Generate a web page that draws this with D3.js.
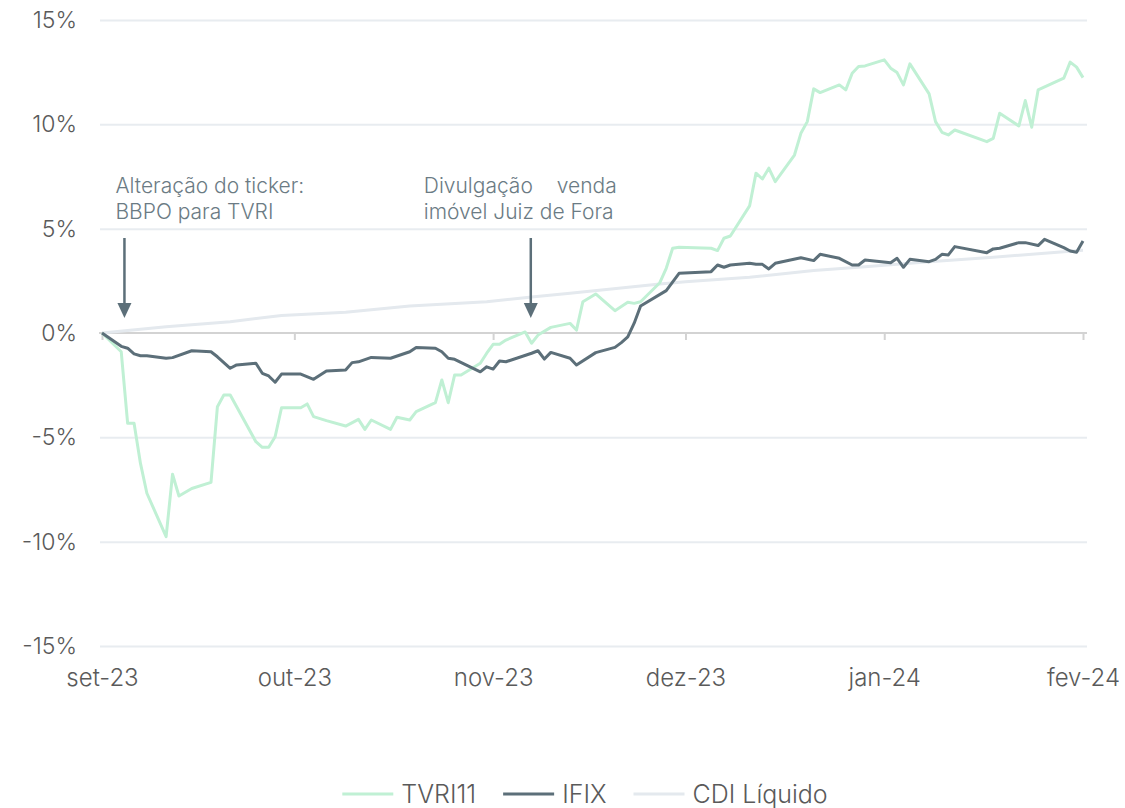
<!DOCTYPE html>
<html lang="pt">
<head>
<meta charset="utf-8">
<title>TVRI11 x IFIX x CDI</title>
<script src="https://cdn.jsdelivr.net/npm/d3@7"></script>
<style>
  body { margin: 0; background: #fff; }
  svg text { font-family: Inter, "Open Sans", sans-serif; font-weight: 300; }
</style>
</head>
<body>
<script>
// dados (% acumulado)
var tvri11 = [
  ["2023-09-01", 0], ["2023-09-04", -0.9], ["2023-09-05", -4.33], ["2023-09-06", -4.33],
  ["2023-09-07", -6.25], ["2023-09-08", -7.68], ["2023-09-11", -9.76], ["2023-09-12", -6.77],
  ["2023-09-13", -7.81], ["2023-09-15", -7.45], ["2023-09-18", -7.16], ["2023-09-19", -3.53],
  ["2023-09-20", -2.97], ["2023-09-21", -2.97], ["2023-09-25", -5.21], ["2023-09-26", -5.48],
  ["2023-09-27", -5.48], ["2023-09-28", -4.97], ["2023-09-29", -3.58], ["2023-10-02", -3.58],
  ["2023-10-03", -3.40], ["2023-10-04", -4.01], ["2023-10-06", -4.20], ["2023-10-09", -4.46],
  ["2023-10-11", -4.14], ["2023-10-12", -4.62], ["2023-10-13", -4.17], ["2023-10-16", -4.62],
  ["2023-10-17", -4.04], ["2023-10-19", -4.17], ["2023-10-20", -3.77], ["2023-10-23", -3.34],
  ["2023-10-24", -2.25], ["2023-10-25", -3.34], ["2023-10-26", -2.01], ["2023-10-27", -2.01],
  ["2023-10-30", -1.45], ["2023-10-31", -0.97], ["2023-11-01", -0.54], ["2023-11-02", -0.54],
  ["2023-11-03", -0.34], ["2023-11-06", 0.05], ["2023-11-07", -0.49], ["2023-11-08", -0.10],
  ["2023-11-10", 0.27], ["2023-11-13", 0.46], ["2023-11-14", 0.14], ["2023-11-15", 1.50],
  ["2023-11-17", 1.87], ["2023-11-20", 1.07], ["2023-11-22", 1.47], ["2023-11-23", 1.42],
  ["2023-11-24", 1.50], ["2023-11-27", 2.41], ["2023-11-28", 3.10], ["2023-11-29", 4.06],
  ["2023-11-30", 4.11], ["2023-12-05", 4.06], ["2023-12-06", 3.95], ["2023-12-07", 4.54],
  ["2023-12-08", 4.65], ["2023-12-11", 6.09], ["2023-12-12", 7.66], ["2023-12-13", 7.38],
  ["2023-12-14", 7.90], ["2023-12-15", 7.25], ["2023-12-18", 8.53], ["2023-12-19", 9.57],
  ["2023-12-20", 10.13], ["2023-12-21", 11.70], ["2023-12-22", 11.52], ["2023-12-25", 11.89],
  ["2023-12-26", 11.65], ["2023-12-27", 12.45], ["2023-12-28", 12.77], ["2023-12-29", 12.80],
  ["2024-01-01", 13.09], ["2024-01-02", 12.69], ["2024-01-03", 12.48], ["2024-01-04", 11.89],
  ["2024-01-05", 12.90], ["2024-01-08", 11.46], ["2024-01-09", 10.13], ["2024-01-10", 9.62],
  ["2024-01-11", 9.49], ["2024-01-12", 9.73], ["2024-01-17", 9.17], ["2024-01-18", 9.33],
  ["2024-01-19", 10.53], ["2024-01-22", 9.92], ["2024-01-23", 11.14], ["2024-01-24", 9.86],
  ["2024-01-25", 11.65], ["2024-01-29", 12.21], ["2024-01-30", 12.98], ["2024-01-31", 12.74],
  ["2024-02-01", 12.24]
];

var ifix = [
  ["2023-09-01", 0], ["2023-09-04", -0.64], ["2023-09-05", -0.73], ["2023-09-06", -1.00],
  ["2023-09-07", -1.09], ["2023-09-08", -1.09], ["2023-09-11", -1.21], ["2023-09-12", -1.18],
  ["2023-09-15", -0.85], ["2023-09-18", -0.90], ["2023-09-19", -1.14], ["2023-09-21", -1.69],
  ["2023-09-22", -1.53], ["2023-09-25", -1.45], ["2023-09-26", -1.93], ["2023-09-27", -2.06],
  ["2023-09-28", -2.36], ["2023-09-29", -1.97], ["2023-10-02", -1.97], ["2023-10-04", -2.22],
  ["2023-10-06", -1.82], ["2023-10-09", -1.77], ["2023-10-10", -1.42], ["2023-10-11", -1.38],
  ["2023-10-13", -1.17], ["2023-10-16", -1.21], ["2023-10-19", -0.90], ["2023-10-20", -0.69],
  ["2023-10-23", -0.73], ["2023-10-24", -0.90], ["2023-10-25", -1.21], ["2023-10-26", -1.26],
  ["2023-10-30", -1.86], ["2023-10-31", -1.62], ["2023-11-01", -1.73], ["2023-11-02", -1.34],
  ["2023-11-03", -1.38], ["2023-11-07", -0.97], ["2023-11-08", -0.85], ["2023-11-09", -1.25],
  ["2023-11-10", -0.93], ["2023-11-13", -1.21], ["2023-11-14", -1.53], ["2023-11-17", -0.94],
  ["2023-11-20", -0.69], ["2023-11-21", -0.46], ["2023-11-22", -0.19], ["2023-11-23", 0.47],
  ["2023-11-24", 1.29], ["2023-11-28", 2.03], ["2023-11-30", 2.86], ["2023-12-05", 2.94],
  ["2023-12-06", 3.26], ["2023-12-07", 3.15], ["2023-12-08", 3.26], ["2023-12-11", 3.34],
  ["2023-12-12", 3.29], ["2023-12-13", 3.29], ["2023-12-14", 3.07], ["2023-12-15", 3.34],
  ["2023-12-19", 3.61], ["2023-12-21", 3.47], ["2023-12-22", 3.77], ["2023-12-25", 3.58],
  ["2023-12-27", 3.26], ["2023-12-28", 3.26], ["2023-12-29", 3.50], ["2024-01-02", 3.37],
  ["2024-01-03", 3.58], ["2024-01-04", 3.15], ["2024-01-05", 3.53], ["2024-01-08", 3.42],
  ["2024-01-09", 3.53], ["2024-01-10", 3.77], ["2024-01-11", 3.74], ["2024-01-12", 4.14],
  ["2024-01-17", 3.85], ["2024-01-18", 4.03], ["2024-01-19", 4.06], ["2024-01-22", 4.33],
  ["2024-01-23", 4.33], ["2024-01-25", 4.19], ["2024-01-26", 4.49], ["2024-01-29", 4.09],
  ["2024-01-30", 3.93], ["2024-01-31", 3.87], ["2024-02-01", 4.41]
];

var cdiLiquido = [
  ["2023-09-01", 0], ["2023-09-11", 0.30], ["2023-09-21", 0.54], ["2023-09-29", 0.84],
  ["2023-10-09", 0.99], ["2023-10-19", 1.29], ["2023-10-31", 1.50], ["2023-11-07", 1.73],
  ["2023-11-13", 1.90], ["2023-11-27", 2.35], ["2023-12-01", 2.46], ["2023-12-11", 2.67],
  ["2023-12-21", 2.99], ["2023-12-29", 3.18], ["2024-01-08", 3.42], ["2024-01-18", 3.63],
  ["2024-01-26", 3.82], ["2024-02-01", 3.97]
];

var yTicks = [-15, -10, -5, 0, 5, 10, 15];
var monthTicks = ["2023-09-01", "2023-10-01", "2023-11-01", "2023-12-01", "2024-01-01", "2024-02-01"];
var monthLabels = ["set-23", "out-23", "nov-23", "dez-23", "jan-24", "fev-24"];

var seriesNames = ["TVRI11", "IFIX", "CDI Líquido"];
var seriesColors = ["#c0f0d4", "#5c6f79", "#e4e9ee"];

// cada linha do texto: pedaços [texto, deslocamento x]
var annotations = [
  { date: "2023-09-04T12:00", dx: -9,
    lines: [[["Alteração do ticker:", 0]], [["BBPO para TVRI", 0]]] },
  { date: "2023-11-06T21:00", dx: -107,
    lines: [[["Divulgação", 0], ["venda", 133]], [["imóvel Juiz de Fora", 0]]] }
];

var width = 1125,
    height = 808,
    left = 100,
    right = 1087;

var parse = d3.timeParse("%Y-%m-%d");
var parseT = d3.timeParse("%Y-%m-%dT%H:%M");

var svg = d3.select("body").append("svg")
    .attr("width", width)
    .attr("height", height);

var x = d3.scaleTime()
    .domain([parse("2023-09-01"), parse("2024-02-01")])
    .range([102, 1083]);

var y = d3.scaleLinear()
    .domain([-15, 15])
    .range([646, 20]);

// grid + y labels
var yAxis = svg.append("g")
    .attr("transform", "translate(" + left + ",0)")
    .call(d3.axisLeft(y)
      .tickValues(yTicks)
      .tickSize(-(right - left))
      .tickPadding(23)
      .tickFormat(function(d) { return d + "%"; }));
yAxis.select(".domain").remove();
yAxis.selectAll("line")
    .attr("stroke", "#e8ecf0")
    .attr("stroke-width", 2)
    .attr("opacity", function(d) { return d === 0 ? 0 : 1; });
yAxis.selectAll("text")
    .attr("fill", "#5a5a5a")
    .style("font-size", "23px");

// linha do zero com marcas dos meses
var zeroAxis = svg.append("g")
    .attr("transform", "translate(0," + y(0) + ")")
    .call(d3.axisBottom(x)
      .tickValues(monthTicks.map(parse))
      .tickSize(7)
      .tickFormat(""));
zeroAxis.select(".domain")
    .attr("d", "M" + (left - 1) + ",0H" + right)
    .attr("stroke", "#d3d3d3")
    .attr("stroke-width", 2);
zeroAxis.selectAll("line")
    .attr("stroke", "#d3d3d3")
    .attr("stroke-width", 2);

// rótulos dos meses
var xAxis = svg.append("g")
    .attr("transform", "translate(0," + y(-15) + ")")
    .call(d3.axisBottom(x)
      .tickValues(monthTicks.map(parse))
      .tickSize(0)
      .tickPadding(23)
      .tickFormat(function(d, i) { return monthLabels[i]; }));
xAxis.select(".domain").remove();
xAxis.selectAll("text")
    .attr("fill", "#5a5a5a")
    .style("font-size", "24px");

var line = d3.line()
    .x(function(d) { return x(parse(d[0])); })
    .y(function(d) { return y(d[1]); });

// ordem de desenho: CDI, TVRI11, IFIX
var allSeries = [tvri11, ifix, cdiLiquido];
[2, 0, 1].forEach(function(k) {
  svg.append("path")
      .datum(allSeries[k])
      .attr("fill", "none")
      .attr("stroke", seriesColors[k])
      .attr("stroke-width", 3)
      .attr("stroke-linejoin", "round")
      .attr("d", line);
});

// anotações
annotations.forEach(function(a) {
  var ax = x(parseT(a.date));
  var g = svg.append("g");
  g.append("line")
      .attr("x1", ax).attr("x2", ax)
      .attr("y1", 238).attr("y2", 306)
      .attr("stroke", "#5c6f79")
      .attr("stroke-width", 2.5);
  g.append("path")
      .attr("d", "M" + (ax - 7) + ",303L" + (ax + 7) + ",303L" + ax + ",318Z")
      .attr("fill", "#5c6f79");
  a.lines.forEach(function(parts, i) {
    g.selectAll(null)
        .data(parts)
        .enter().append("text")
        .attr("x", function(d) { return ax + a.dx + d[1]; })
        .attr("y", 193 + i * 26)
        .attr("fill", "#6b7b84")
        .style("font-size", "21px")
        .text(function(d) { return d[0]; });
  });
});

// legenda
var legend = svg.append("g");
var cursor = 0;
seriesNames.forEach(function(name, i) {
  var it = legend.append("g").attr("transform", "translate(" + cursor + ",0)");
  it.append("line")
      .attr("x1", 0).attr("x2", 51)
      .attr("stroke", seriesColors[i])
      .attr("stroke-width", 3);
  var t = it.append("text")
      .attr("x", 59)
      .attr("dy", "0.35em")
      .attr("fill", "#5a5a5a")
      .style("font-size", "25px")
      .text(name);
  cursor += 59 + t.node().getComputedTextLength() + 27;
});
var total = cursor - 27;
legend.attr("transform", "translate(" + (585 - total / 2) + ",794)");
</script>
</body>
</html>
